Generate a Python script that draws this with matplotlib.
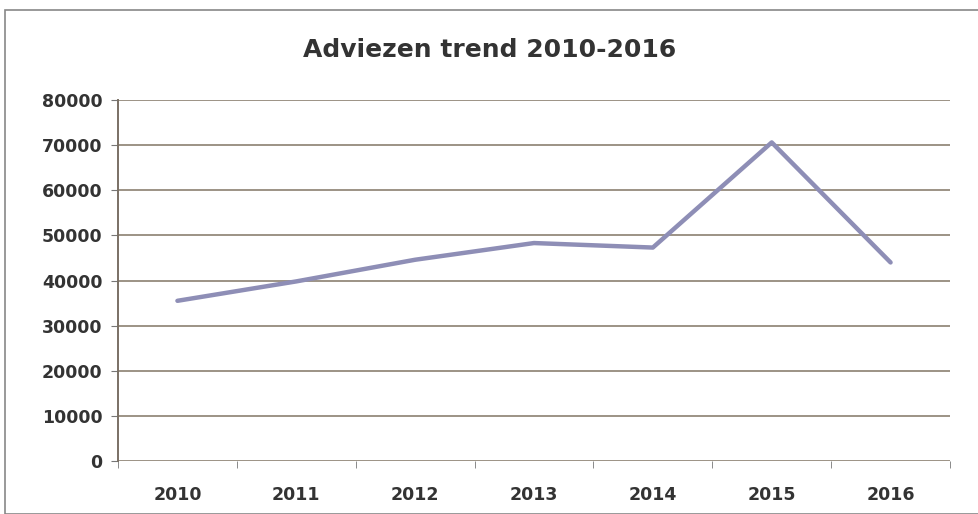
import matplotlib
matplotlib.use("Agg")
import matplotlib.pyplot as plt
from matplotlib.patches import Rectangle
import numpy as np

years = ["2010", "2011", "2012", "2013", "2014", "2015", "2016"]
adviezen = [35500, 39800, 44600, 48300, 47300, 70600, 44000]
yticks = [0, 10000, 20000, 30000, 40000, 50000, 60000, 70000, 80000]

plt.rcParams['font.family'] = ['DejaVu Sans']
fig = plt.figure(figsize=(9.79, 5.14), dpi=100)
ax = fig.add_axes([118/979, 1-461/514, (950-118)/979, (461-100)/514])

x = np.arange(len(years))
ax.plot(x, adviezen, color="#8e8eb6", lw=3.2, solid_capstyle="round", zorder=3)

ax.set_xlim(-0.5, len(years) - 0.5)
ax.set_ylim(0, 80000)
ax.set_yticks(yticks)
ax.set_yticklabels([str(v) for v in yticks], fontsize=12.5, fontweight="bold", color="#333333")
ax.set_xticks(x)
ax.set_xticklabels(years, fontsize=12.5, fontweight="bold", color="#333333")
ax.tick_params(axis="x", length=0, pad=18)
ax.set_xticks(np.arange(-0.5, len(years), 1), minor=True)
ax.tick_params(axis="x", which="minor", length=5, color="#777777")
ax.tick_params(axis="y", length=5, color="#777777", pad=6)

for v in yticks:
    ax.axhline(v, color="#948a7c", lw=1.3, zorder=1)

for s in ["top", "right", "bottom"]:
    ax.spines[s].set_visible(False)
ax.spines["left"].set_color("#7a7065")
ax.spines["left"].set_linewidth(1.4)

fig.text(0.5, 1-50/514, "Adviezen trend 2010-2016", ha="center", va="center",
         fontsize=18, fontweight="bold", color="#333333")

fig.patches.append(Rectangle((5/979, 0), 1, 1-10/514, transform=fig.transFigure,
                             fill=False, edgecolor="#888888", lw=1.2))

fig.savefig("out.png", dpi=100, facecolor="white")
